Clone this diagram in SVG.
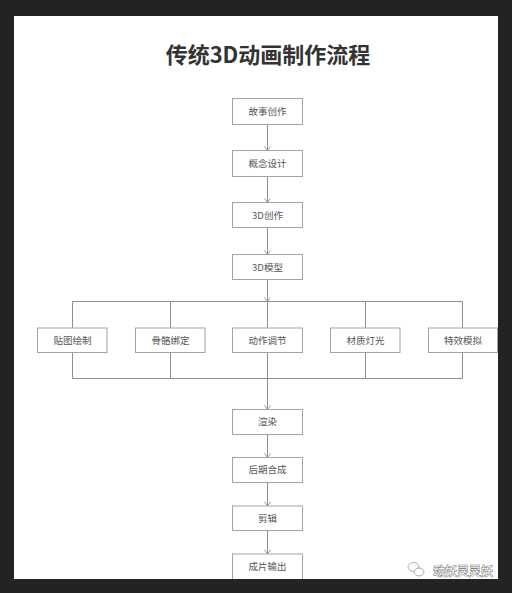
<svg xmlns="http://www.w3.org/2000/svg" width="512" height="593" viewBox="0 0 512 593">
<style>
.box{fill:#fff;stroke:#a3a3a3;stroke-width:1}
.lbl{font-family:"Noto Sans CJK SC","Noto Sans",sans-serif;font-size:9.5px;fill:#555;text-anchor:middle}
.ln{fill:none;stroke:#8e8e8e;stroke-width:1}
.title{font-family:"Noto Sans CJK SC","Noto Sans",sans-serif;font-size:22px;font-weight:bold;fill:#333;text-anchor:middle}
.wm{font-family:"Noto Sans CJK SC",sans-serif;font-size:12px;fill:#fff;stroke:#666;stroke-width:0.9;paint-order:stroke;text-anchor:start}
</style>
<defs>
<marker id="ar" viewBox="0 0 5 7" refX="4.6" refY="3.5" markerWidth="5" markerHeight="7" markerUnits="userSpaceOnUse" orient="auto">
<path d="M0.5,0.5 L4.5,3.5 L0.5,6.5" fill="none" stroke="#8e8e8e" stroke-width="0.9"/>
</marker>
<clipPath id="page"><rect x="14" y="16" width="484" height="563"/></clipPath>
</defs>
<rect x="0" y="0" width="512" height="593" fill="#232323"/>
<rect x="14" y="16" width="484" height="563" fill="#fff"/>
<text class="title" x="268" y="63">传统3D动画制作流程</text>
<g clip-path="url(#page)">
<g id="connectors">
<path class="ln" d="M267.5,124.5 V150.5" marker-end="url(#ar)"/>
<path class="ln" d="M267.5,176.5 V202.5" marker-end="url(#ar)"/>
<path class="ln" d="M267.5,227.5 V254.5" marker-end="url(#ar)"/>
<path class="ln" d="M267.5,279.5 V301.5" marker-end="url(#ar)"/>
<path class="ln" d="M72.5,328 V301.5 H462.5 V328 M170.5,301.5 V328 M365.5,301.5 V328 M267.5,301.5 V328"/>
<path class="ln" d="M72.5,352.5 V378.5 H462.5 V352.5 M170.5,352.5 V378.5 M365.5,352.5 V378.5 M267.5,352.5 V378.5"/>
<path class="ln" d="M267.5,378.5 V409.5" marker-end="url(#ar)"/>
<path class="ln" d="M267.5,434.5 V457.5" marker-end="url(#ar)"/>
<path class="ln" d="M267.5,482.5 V506" marker-end="url(#ar)"/>
<path class="ln" d="M267.5,530.5 V554" marker-end="url(#ar)"/>
</g>
<g id="n1"><rect class="box" x="232.5" y="98.5" width="70" height="26"/><text class="lbl" x="267.5" y="115">故事创作</text></g>
<g id="n2"><rect class="box" x="232.5" y="150.5" width="70" height="26"/><text class="lbl" x="267.5" y="167">概念设计</text></g>
<g id="n3"><rect class="box" x="232.5" y="202.5" width="70" height="25"/><text class="lbl" x="267.5" y="218.5">3D创作</text></g>
<g id="n4"><rect class="box" x="232.5" y="254.5" width="70" height="25"/><text class="lbl" x="267.5" y="270.5">3D模型</text></g>
<g id="n5"><rect class="box" x="37.5" y="328" width="69.5" height="24.5"/><text class="lbl" x="72.5" y="343.7">贴图绘制</text></g>
<g id="n6"><rect class="box" x="135.5" y="328" width="69.5" height="24.5"/><text class="lbl" x="170.5" y="343.7">骨骼绑定</text></g>
<g id="n7"><rect class="box" x="232.5" y="328" width="70" height="24.5"/><text class="lbl" x="267.5" y="343.7">动作调节</text></g>
<g id="n8"><rect class="box" x="330.5" y="328" width="69.5" height="24.5"/><text class="lbl" x="365.5" y="343.7">材质灯光</text></g>
<g id="n9"><rect class="box" x="428.5" y="328" width="69" height="24.5"/><text class="lbl" x="463" y="343.7">特效模拟</text></g>
<g id="n10"><rect class="box" x="232.5" y="409.5" width="70" height="25"/><text class="lbl" x="267.5" y="425.4">渲染</text></g>
<g id="n11"><rect class="box" x="232.5" y="457.5" width="70" height="25"/><text class="lbl" x="267.5" y="473.4">后期合成</text></g>
<g id="n12"><rect class="box" x="232.5" y="506" width="70" height="24.5"/><text class="lbl" x="267.5" y="521.7">剪辑</text></g>
<g id="n13"><rect class="box" x="232.5" y="554" width="70" height="30"/><text class="lbl" x="267.5" y="569.5">成片输出</text></g>
</g>
<g id="watermark">
<ellipse cx="413.5" cy="567" rx="5.5" ry="4.5" fill="#fff" stroke="#999" stroke-width="0.8"/>
<ellipse cx="419" cy="572" rx="5" ry="4" fill="#fff" stroke="#999" stroke-width="0.8"/>
<text class="wm" x="433" y="576">动妖灵灵妖</text>
</g>
</svg>
